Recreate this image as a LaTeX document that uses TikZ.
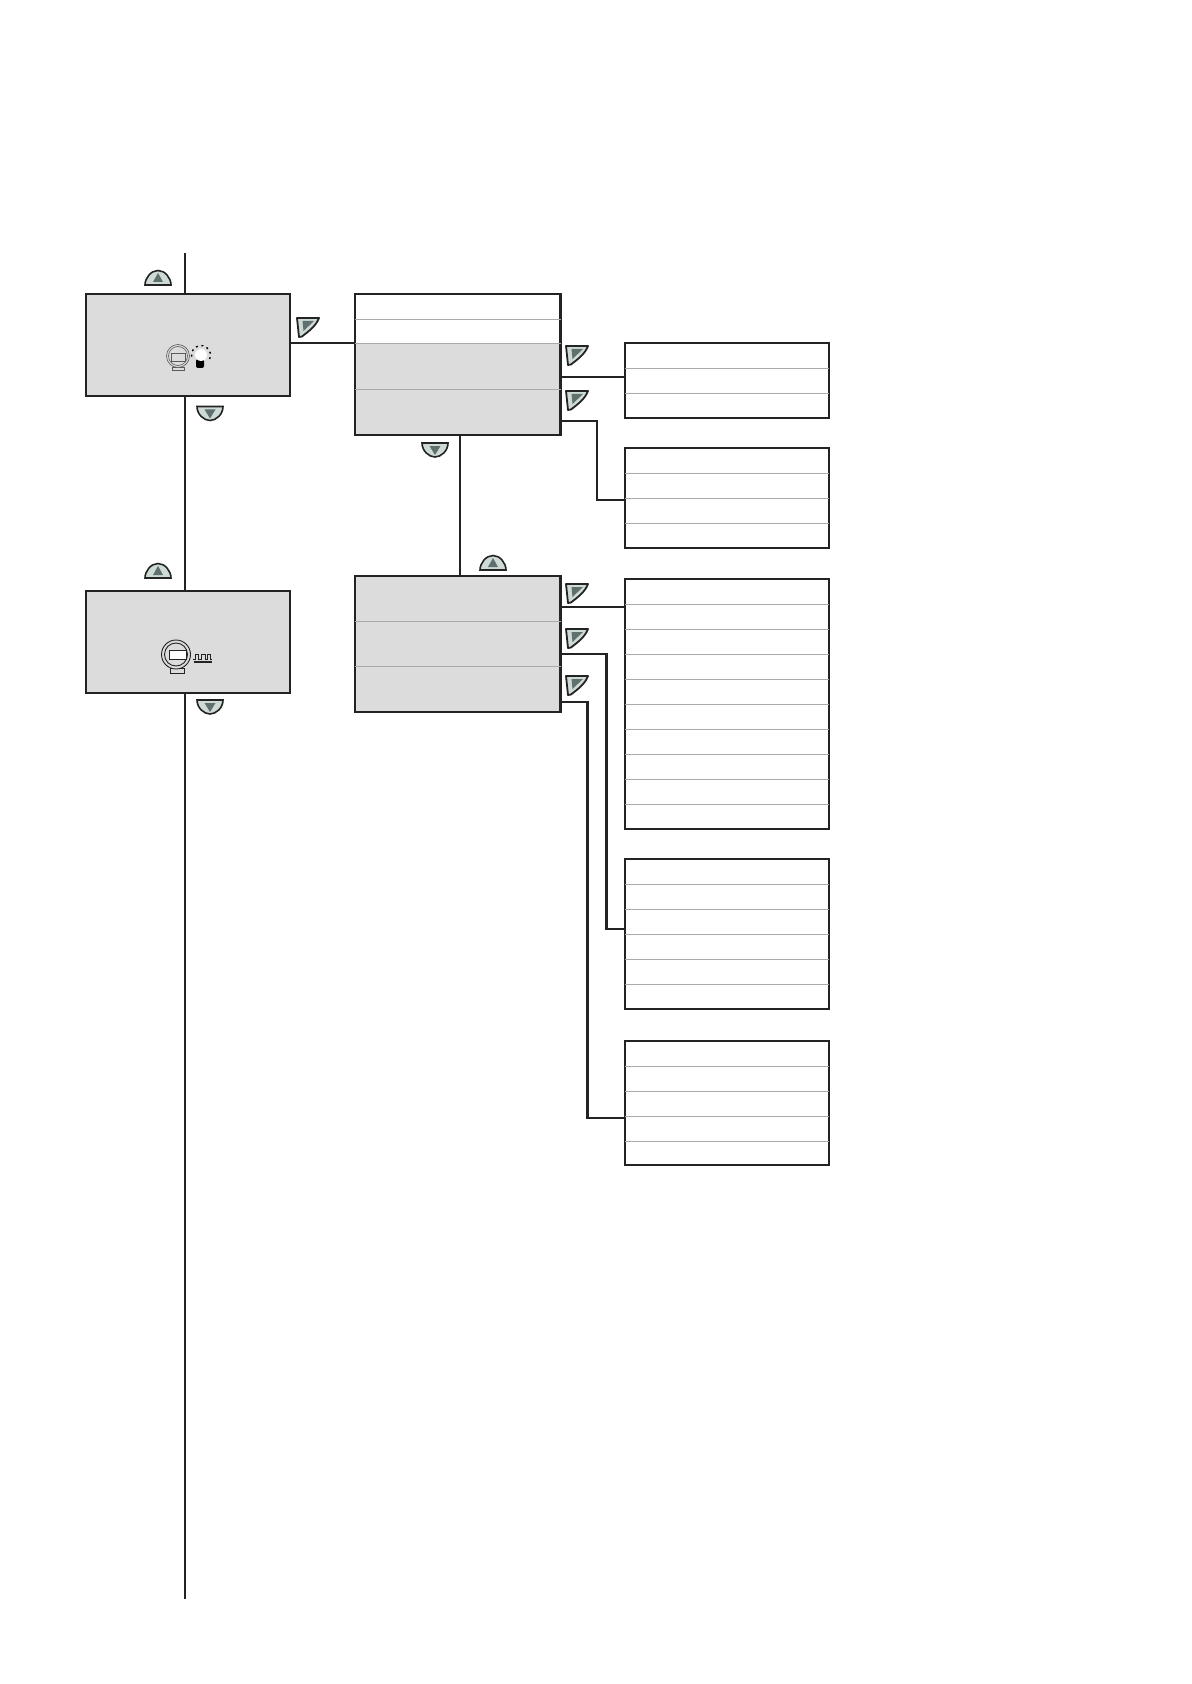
\documentclass[tikz,border=0pt]{standalone}
\usepackage{xcolor}
\usepackage{tikz}
\usetikzlibrary{positioning,calc}
\definecolor{panelGrey}{RGB}{220,220,220}
\definecolor{lineDark}{RGB}{35,35,35}
\definecolor{rowGrey}{RGB}{170,170,170}
\definecolor{keyFill}{RGB}{205,218,214}
\definecolor{keyMark}{RGB}{95,112,110}
\tikzset{
  panel/.style={draw=lineDark,line width=1.25pt,fill=panelGrey,anchor=north west,
                minimum width=102pt,minimum height=51pt,inner sep=0pt,outer sep=0pt},
  listbox/.style={draw=lineDark,line width=1.25pt,anchor=north west,
                  minimum width=102pt,inner sep=0pt,outer sep=0pt},
  row/.style={draw=rowGrey,line width=0.5pt},
  wire/.style={draw=lineDark,line width=1.2pt},
  thin icon/.style={draw=lineDark!75,line width=0.3pt},
  keyup/.pic={
    \draw[draw=lineDark,line width=0.8pt,fill=keyFill] (-13,7) .. controls (-13,0) and (-7,-7.5) .. (0,-7.5)
      .. controls (7,-7.5) and (13,0) .. (13,7) -- cycle;
    \fill[keyMark] (0,-5) -- (5,4) -- (-5,4) -- cycle;
  },
  keydown/.pic={
    \draw[draw=lineDark,line width=0.8pt,fill=keyFill] (-13,-7) -- (13,-7) .. controls (13,1) and (6,7) .. (0,7)
      .. controls (-6,7) and (-13,1) .. (-13,-7) -- cycle;
    \fill[keyMark] (-5.5,-4) -- (5.5,-4) -- (0,5) -- cycle;
  },
  keyenter/.pic={
    \draw[draw=lineDark,line width=0.9pt,fill=keyFill,line join=round] (0,0) -- (22,0)
      .. controls (19,8) and (12,13) .. (5,18.5) -- (2,19) -- cycle;
    \fill[keyMark] (5.5,3) -- (17,3) -- (6.5,13) -- cycle;
  },
}
\begin{document}
\begin{tikzpicture}[x=0.5pt,y=-0.5pt]
  \useasboundingbox (0,0) rectangle (1191,1684);

  % left column
  \node[panel] (lightPanel) at (86,294) {};
  \node[panel] (pulsePanel) at (86,591) {};

  % middle column
  \fill[panelGrey] (355,344) rectangle (560.5,435);
  \node[listbox,minimum width=102.75pt,minimum height=70.5pt] (lightMenu) at (355,294) {};
  \node[panel,minimum width=102.75pt,minimum height=68pt] (pulseMenu) at (355,576) {};

  % right column
  \node[listbox,minimum height=37.5pt] (listA) at (625,343) {};
  \node[listbox,minimum height=50pt] (listB) at (625,448) {};
  \node[listbox,minimum height=125pt] (listC) at (625,579) {};
  \node[listbox,minimum height=75pt] (listD) at (625,859) {};
  \node[listbox,minimum height=62pt] (listE) at (625,1041) {};

  % row lines
  \foreach \y in {320,344,389.5}
    \draw[row] (lightMenu.west |- 0,\y) -- (lightMenu.east |- 0,\y);
  \foreach \y in {621.5,666.5}
    \draw[row] (pulseMenu.west |- 0,\y) -- (pulseMenu.east |- 0,\y);
  \foreach \y in {368.7,393.7}
    \draw[row] (listA.west |- 0,\y) -- (listA.east |- 0,\y);
  \foreach \y in {473,498,523}
    \draw[row] (listB.west |- 0,\y) -- (listB.east |- 0,\y);
  \foreach \y in {604,629,...,804}
    \draw[row] (listC.west |- 0,\y) -- (listC.east |- 0,\y);
  \foreach \y in {884,909,...,984}
    \draw[row] (listD.west |- 0,\y) -- (listD.east |- 0,\y);
  \foreach \y in {1066,1091,1116,1141}
    \draw[row] (listE.west |- 0,\y) -- (listE.east |- 0,\y);

  % connectors
  \coordinate (trunkTop) at (185,253);
  \coordinate (trunkEnd) at (185,1599);
  \coordinate (outLight) at (290,343);
  \coordinate (outA) at (560,377);
  \coordinate (outB) at (560,421);
  \coordinate (outC) at (560,607);
  \coordinate (outD) at (560,654);
  \coordinate (outE) at (560,702);
  \coordinate (outDown) at (460,435);
  \draw[wire] (trunkTop) -- (trunkTop |- lightPanel.north);
  \draw[wire] (trunkTop |- lightPanel.south) -- (trunkTop |- pulsePanel.north);
  \draw[wire] (trunkTop |- pulsePanel.south) -- (trunkEnd);
  \draw[wire] (outLight) -- (outLight -| lightMenu.west);
  \draw[wire] (outDown) -- (outDown |- pulseMenu.north);
  \draw[wire] (outA) -- (outA -| listA.west);
  \draw[wire] (outB) -| (597,500) -- (listB.west |- 0,500);
  \draw[wire] (outC) -- (outC -| listC.west);
  \draw[wire] (outD) -| (606.5,929) -- (listD.west |- 0,929);
  \draw[wire] (outE) -| (587.5,1118) -- (listE.west |- 0,1118);

  % keys
  \pic at (158,278) {keyup};
  \pic at (158,571) {keyup};
  \pic at (493,563) {keyup};
  \pic at (210,413.5) {keydown};
  \pic at (210,707) {keydown};
  \pic at (435,450) {keydown};
  \pic at (297,318) {keyenter};
  \pic at (566,346) {keyenter};
  \pic at (566,391) {keyenter};
  \pic at (566,584) {keyenter};
  \pic at (566,629) {keyenter};
  \pic at (566,676) {keyenter};

  % meter with lamp
  \draw[thin icon] (172,367) rectangle (184,370);
  \draw[thin icon,fill=panelGrey] (178,356) circle[radius=11.5];
  \draw[thin icon] (178,356) circle[radius=9.5];
  \draw[thin icon] (171,353) rectangle (185,361);
  \fill[black,rounded corners=1pt] (196,359) rectangle (204,368);
  \fill[white] (201,355) circle[radius=6];
  \draw[black,line width=0.7pt,dash pattern=on 1pt off 1.8pt] (201,355) ++(170:9.5) arc[start angle=170,end angle=385,radius=9.5];

  % meter with pulses
  \draw[lineDark,line width=0.45pt] (170,668) rectangle (184,673);
  \draw[lineDark,line width=0.45pt,fill=panelGrey] (176,654.5) circle[radius=14.5];
  \draw[lineDark,line width=0.45pt] (176,654.5) circle[radius=11.5];
  \draw[lineDark,line width=0.45pt,fill=white] (169,650.5) rectangle (186,659);
  \draw[lineDark,line width=0.4pt] (193,659.5) -- (195,659.5) -- (195,654.5) -- (198,654.5) -- (198,659.5) -- (201.5,659.5)
    -- (201.5,654.5) -- (205,654.5) -- (205,659.5) -- (207,659.5) -- (207,654.5) -- (210,654.5) -- (210,659.5) -- (212,659.5);
  \draw[lineDark,line width=0.7pt] (193.5,662) -- (211.5,662);
\end{tikzpicture}
\end{document}
